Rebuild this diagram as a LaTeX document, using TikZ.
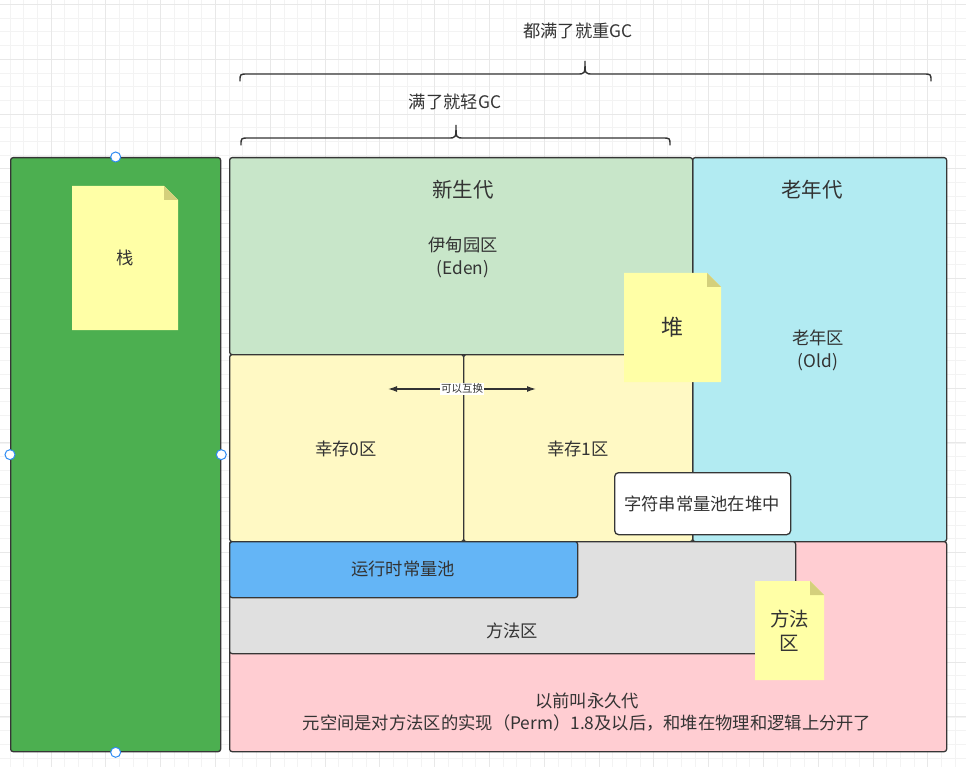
\documentclass[tikz,border=0pt]{standalone}
\usepackage{fontspec}
\newfontfamily\cjk{Noto Sans CJK SC}
\usetikzlibrary{arrows.meta,calc}
\definecolor{ink}{HTML}{333333}
\definecolor{edge}{HTML}{363636}
\definecolor{gridminor}{HTML}{F3F3F3}
\definecolor{gridmajor}{HTML}{E8E8E8}
\definecolor{stackgreen}{HTML}{4CAF50}
\definecolor{younggreen}{HTML}{C8E6C9}
\definecolor{oldcyan}{HTML}{B2EBF2}
\definecolor{survivor}{HTML}{FFF9C4}
\definecolor{metapink}{HTML}{FFCDD2}
\definecolor{methodgray}{HTML}{E0E0E0}
\definecolor{poolblue}{HTML}{64B5F6}
\definecolor{notefill}{HTML}{FFFFA6}
\definecolor{notefold}{HTML}{D4D07C}
\definecolor{handle}{HTML}{2F8CF3}
\tikzset{
  area/.style={draw=edge, line width=1.3pt, rounded corners=2.5pt, anchor=north west, inner sep=0pt},
  label/.style={text=ink, font=\cjk\fontsize{17.3}{23}\selectfont, align=center, inner sep=0pt},
  title/.style={label, font=\cjk\fontsize{20.5}{26}\selectfont},
  brace/.style={draw=ink, line width=1.4pt, line cap=round},
  handlept/.style={circle, draw=handle, fill=white, line width=1pt, minimum size=10pt, inner sep=0pt},
}
% sticky note with a folded top-right corner: #1 name, #2 top-left, #3 width, #4 height
\newcommand{\stickynote}[4]{%
  \coordinate (#1-nw) at #2;
  \fill[notefill] (#1-nw) -- ++(#3-14,0) -- ++(14,14) -- ++(0,#4-14) -- ++(-#3,0) -- cycle;
  \fill[notefold] (#1-nw) ++(#3-14,0) -- ++(0,14) -- ++(14,0) -- cycle;
  \coordinate (#1) at ($(#1-nw)+(#3/2,#4/2)$);
}
\begin{document}
\begin{tikzpicture}[x=1pt,y=-1pt]
\useasboundingbox (0,0) rectangle (966,767);
\fill[white] (0,0) rectangle (966,767);
% background grid
\foreach \i in {0,...,71} {
  \pgfmathsetmacro{\gx}{-3.8+13.7*\i}
  \draw[gridminor, line width=0.8pt] (\gx,0) -- (\gx,767);
}
\foreach \i in {0,...,56} {
  \pgfmathsetmacro{\gy}{4.5+13.7*\i}
  \draw[gridminor, line width=0.8pt] (0,\gy) -- (966,\gy);
}
\foreach \i in {0,...,17} {
  \pgfmathsetmacro{\gx}{51-54.8+54.8*\i}
  \draw[gridmajor, line width=1pt] (\gx,0) -- (\gx,767);
}
\foreach \i in {0,...,14} {
  \pgfmathsetmacro{\gy}{59.3-54.8+54.8*\i}
  \draw[gridmajor, line width=1pt] (0,\gy) -- (966,\gy);
}

% stack column
\node[area, fill=stackgreen, minimum width=210pt, minimum height=594pt] (stack) at (10,157) {};
\stickynote{stacknote}{(72,186)}{106}{144}
\node[label] (stacktxt) at (stacknote) {栈};

% heap: old and young generations
\node[area, fill=oldcyan, minimum width=254pt, minimum height=384pt] (old) at (692,157) {};
\node[area, fill=younggreen, minimum width=463pt, minimum height=197pt] (young) at (229,157) {};
\node[area, fill=survivor, minimum width=234pt, minimum height=187pt] (s0) at (229,354) {};
\node[area, fill=survivor, minimum width=229pt, minimum height=187pt] (s1) at (463,354) {};

\node[title] (youngtitle) at (463,190) {新生代};
\node[label] (eden) at (463,257) {伊甸园区\\(Eden)};
\node[title] (oldtitle) at (812,190) {老年代};
\node[label] (oldtxt) at (818,350) {老年区\\(Old)};
\node[label] (s0txt) at (346,449) {幸存0区};
\node[label] (s1txt) at (578,449) {幸存1区};

% survivor spaces swap roles
\coordinate (swapL) at (388,389);
\coordinate (swapR) at (536,389);
\draw[draw=ink, line width=1.3pt, {Latex[length=9pt,width=6pt]}-{Latex[length=9pt,width=6pt]}] (swapL) -- (swapR)
  node[midway, fill=white, text=ink, font=\cjk\fontsize{10.5}{12}\selectfont, inner sep=1pt] (swaptxt) {可以互换};

% metaspace and method area
\node[area, fill=metapink, minimum width=717pt, minimum height=210pt] (meta) at (229,541) {};
\node[area, fill=methodgray, minimum width=566pt, minimum height=112pt] (method) at (229,541) {};
\node[area, fill=poolblue, minimum width=348pt, minimum height=56pt] (pool) at (229,541) {};
\node[label] (pooltxt) at (403,569) {运行时常量池};
\node[label] (methodtxt) at (512,631) {方法区};
\node[label, font=\cjk\fontsize{17.3}{22}\selectfont] (metatxt) at (587,712) {以前叫永久代\\元空间是对方法区的实现（Perm）1.8及以后，和堆在物理和逻辑上分开了};

% heap note and method-area note
\stickynote{heapnote}{(624,273)}{97}{109}
\node[label, font=\cjk\fontsize{22}{26}\selectfont] (heaptxt) at (heapnote) {堆};
\stickynote{methodnote}{(755,581)}{69}{99}
\node[label, font=\cjk\fontsize{19.5}{24}\selectfont] (methodnotetxt) at (methodnote) {方法\\区};

% string constant pool lives in the heap
\node[area, fill=white, minimum width=176pt, minimum height=62pt, rounded corners=4pt] (strpool) at (614,472) {};
\node[label] (strpooltxt) at (702,504) {字符串常量池在堆中};

% GC scope braces
\coordinate (bigL) at (240,81);
\coordinate (bigTip) at (585,61);
\coordinate (bigR) at (931,81);
\draw[brace] (bigL) .. controls (240,74) .. (248,74) -- (577,74) .. controls (585,74) .. (bigTip)
  .. controls (585,74) .. (593,74) -- (923,74) .. controls (931,74) .. (bigR);
\node[label] (fullgc) at (578,31) {都满了就重GC};

\coordinate (smallL) at (241,145);
\coordinate (smallTip) at (456,125);
\coordinate (smallR) at (670,145);
\draw[brace] (smallL) .. controls (241,138) .. (249,138) -- (448,138) .. controls (456,138) .. (smallTip)
  .. controls (456,138) .. (464,138) -- (662,138) .. controls (670,138) .. (smallR);
\node[label] (minorgc) at (455,102) {满了就轻GC};

% selection handles on the stack column
\node[handlept] (hN) at (stack.north) {};
\node[handlept] (hS) at (stack.south) {};
\node[handlept] (hW) at (stack.west) {};
\node[handlept] (hE) at (stack.east) {};
\end{tikzpicture}
\end{document}
